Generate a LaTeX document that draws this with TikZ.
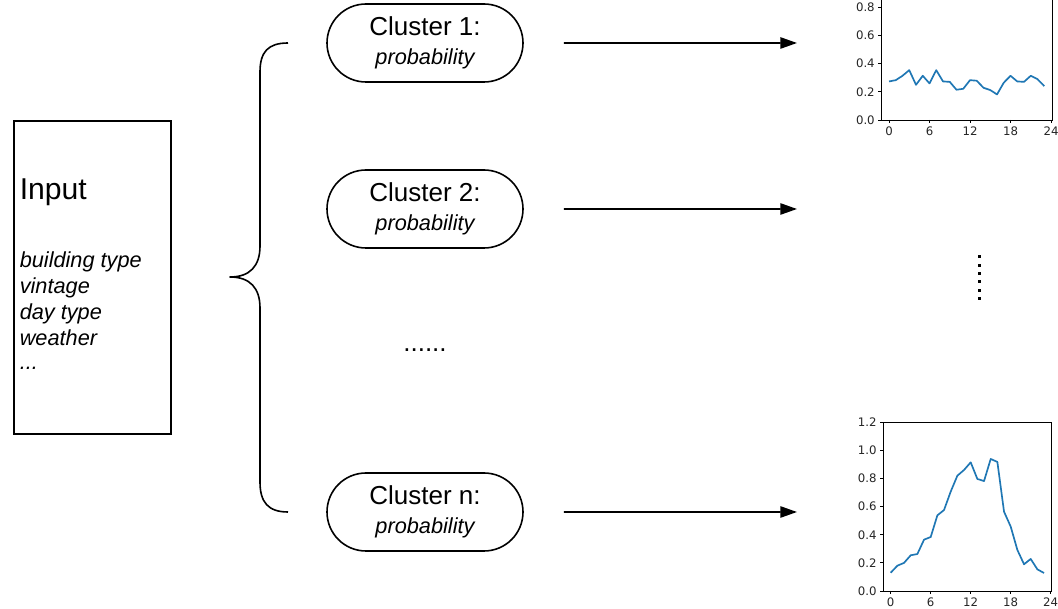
\documentclass[tikz,border=0pt]{standalone}
\usepackage{fontspec}
\setmainfont{Liberation Sans}
\newfontfamily\tickfont{DejaVu Sans}
\usetikzlibrary{shapes.misc,arrows.meta}
\definecolor{mplblue}{HTML}{1F77B4}
\definecolor{ticktext}{HTML}{262626}
\begin{document}
\begin{tikzpicture}[x=0.75pt,y=-0.75pt,
  pill/.style={draw, line width=1.2pt, rounded rectangle, minimum width=147pt, minimum height=58.5pt, align=center, inner sep=0pt},
  inbox/.style={draw, line width=1.2pt, minimum width=117.75pt, minimum height=234.75pt, inner sep=0pt},
  arr/.style={line width=1.2pt, -{Triangle[length=12.5pt,width=8.5pt]}},
  bigtxt/.style={font=\fontsize{19.5}{22}\selectfont},
  listtxt/.style={font=\fontsize{16.3}{19.5}\selectfont\itshape, anchor=base west, inner sep=0pt},
  spine/.style={line width=0.6pt, black},
  curve/.style={line width=1.25pt, mplblue, line join=round},
  ticklab/.style={font=\tickfont\fontsize{8.8}{10}\selectfont, text=ticktext, inner sep=0pt},
]
\clip (0,0) rectangle (1058,609);
\fill[white] (0,0) rectangle (1058,609);

% input box
\node[inbox] (inbox) at (92.5,277.5) {};
\node[font=\fontsize{22.6}{26}\selectfont, anchor=base west, inner sep=0pt] (intitle) at (19.5,200) {Input};
\node[listtxt] (l1) at (19.5,268) {building type};
\node[listtxt] (l2) at (19.5,294) {vintage};
\node[listtxt] (l3) at (19.5,320) {day type};
\node[listtxt] (l4) at (19.5,346) {weather};
\node[listtxt] (l5) at (19.5,370) {...};

% brace
\coordinate (btop) at (288,43);
\coordinate (btip) at (230,277);
\coordinate (bbot) at (288,512);
\draw[line width=1.2pt, line join=round] (btop) .. controls (268,43) and (260,52) .. (260,72)
  -- (260,246) .. controls (260,266) and (250,277) .. (btip)
  .. controls (250,277) and (260,288) .. (260,308)
  -- (260,482) .. controls (260,502) and (268,512) .. (bbot);

% clusters
\node[pill] (c1) at (425,43) {{\fontsize{19.5}{22}\selectfont Cluster 1:}\\[8.5pt]{\fontsize{16.3}{19}\selectfont\itshape probability}};
\node[pill] (c2) at (425,209) {{\fontsize{19.5}{22}\selectfont Cluster 2:}\\[8.5pt]{\fontsize{16.3}{19}\selectfont\itshape probability}};
\node[pill] (cn) at (425,512) {{\fontsize{19.5}{22}\selectfont Cluster n:}\\[8.5pt]{\fontsize{16.3}{19}\selectfont\itshape probability}};
\node[bigtxt, anchor=base] (mdots) at (425,352) {......};

% arrows
\coordinate (p1) at (797,43);
\coordinate (p2) at (797,209);
\coordinate (pn) at (797,512);
\draw[arr, shorten <=30pt] (c1) -- (p1);
\draw[arr, shorten <=30pt] (c2) -- (p2);
\draw[arr, shorten <=30pt] (cn) -- (pn);

% vertical dots
\foreach \i in {0,...,5} \fill (977.8,255.3+8.4*\i) rectangle ++(3,3);

% plot 1
\begin{scope}[shift={(889,120)}, x=5.0625pt, y=105.94pt]
  \draw[spine] (-1.15,1.2) -- (-1.15,0) -- (24.15,0) -- (24.15,1.2);
  \foreach \v/\l in {0/0.0,0.2/0.2,0.4/0.4,0.6/0.6,0.8/0.8} {
    \draw[spine] (-1.15,\v) -- ++(-2.6pt,0pt) node[ticklab, anchor=east, xshift=-2pt] {\l};
  }
  \draw[spine] (-1.15,1.0) -- ++(-2.6pt,0pt);
  \foreach \h in {0,6,12,18,24} {
    \draw[spine] (\h,0) -- ++(0pt,-2.6pt) node[ticklab, anchor=north, yshift=-2pt] {\h};
  }
  \draw[curve] plot coordinates {(0,0.273)(1,0.282)(2,0.313)(3,0.353)(4,0.249)(5,0.313)(6,0.259)(7,0.353)(8,0.273)(9,0.27)(10,0.214)(11,0.221)(12,0.282)(13,0.278)(14,0.228)(15,0.212)(16,0.181)(17,0.264)(18,0.313)(19,0.273)(20,0.27)(21,0.313)(22,0.289)(23,0.24)};
\end{scope}

% plot n
\begin{scope}[shift={(890.7,591)}, x=5.0pt, y=105.45pt]
  \draw[spine] (-1.15,1.2) rectangle (24.15,0);
  \foreach \v/\l in {0/0.0,0.2/0.2,0.4/0.4,0.6/0.6,0.8/0.8,1.0/1.0,1.2/1.2} {
    \draw[spine] (-1.15,\v) -- ++(-2.6pt,0pt) node[ticklab, anchor=east, xshift=-2pt] {\l};
  }
  \foreach \h in {0,6,12,18,24} {
    \draw[spine] (\h,0) -- ++(0pt,-2.6pt) node[ticklab, anchor=north, yshift=-2pt] {\h};
  }
  \draw[curve] plot coordinates {(0,0.130)(1,0.18)(2,0.20)(3,0.254)(4,0.263)(5,0.365)(6,0.384)(7,0.538)(8,0.576)(9,0.707)(10,0.82)(11,0.861)(12,0.915)(13,0.797)(14,0.782)(15,0.939)(16,0.918)(17,0.564)(18,0.458)(19,0.292)(20,0.19)(21,0.228)(22,0.154)(23,0.128)};
\end{scope}
\end{tikzpicture}
\end{document}
